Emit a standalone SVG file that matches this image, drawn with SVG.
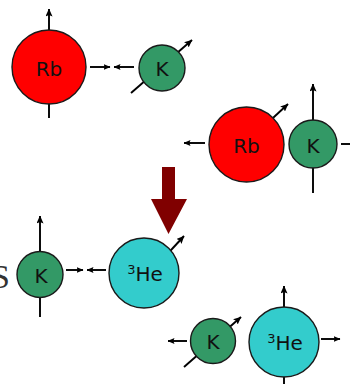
<svg xmlns="http://www.w3.org/2000/svg" width="350" height="384" viewBox="0 0 350 384">
<defs>
<marker id="ah" markerUnits="userSpaceOnUse" markerWidth="8" markerHeight="7" refX="7.5" refY="3.5" orient="auto">
<path d="M0,0 L8,3.5 L0,7 L1.5,3.5 z" fill="#000"/>
</marker>
<marker id="ahs" markerUnits="userSpaceOnUse" markerWidth="7" markerHeight="6" refX="6.5" refY="3" orient="auto">
<path d="M0,0 L7,3 L0,6 L1.2,3 z" fill="#000"/>
</marker>
</defs>
<style>
.c{stroke:#1a1a1a;stroke-width:1.4}
.rb{fill:#ff0000}
.k{fill:#339966}
.he{fill:#33cccc}
.l{stroke:#000;stroke-width:1.9;fill:none}
.a{marker-end:url(#ah)}
.s{marker-end:url(#ahs)}
.t{font-family:"DejaVu Sans",sans-serif;font-size:20px;fill:#111;text-anchor:middle}
.sup{font-size:13px}
</style>
<rect width="350" height="384" fill="#fff"/>
<g id="connectors">
<line class="l a" x1="49" y1="40" x2="49" y2="9"/>
<line class="l" x1="49" y1="100" x2="49" y2="118"/>
<line class="l s" x1="90" y1="67" x2="110" y2="67"/>
<line class="l s" x1="134" y1="67" x2="114" y2="67"/>
<line class="l a" x1="131" y1="93" x2="192" y2="40"/>
<line class="l s" x1="205" y1="143" x2="184" y2="143"/>
<line class="l a" x1="260" y1="130" x2="288" y2="104"/>
<line class="l a" x1="313" y1="130" x2="313" y2="84"/>
<line class="l" x1="313" y1="160" x2="313" y2="193"/>
<line class="l" x1="341" y1="144" x2="350" y2="144"/>
<line class="l a" x1="40" y1="262" x2="40" y2="216"/>
<line class="l" x1="40" y1="290" x2="40" y2="317"/>
<line class="l s" x1="66" y1="270" x2="83" y2="270"/>
<line class="l s" x1="106" y1="270" x2="87" y2="270"/>
<line class="l a" x1="160" y1="262" x2="184" y2="236"/>
<line class="l s" x1="187" y1="341" x2="168" y2="341"/>
<line class="l a" x1="184" y1="367" x2="241" y2="317"/>
<line class="l a" x1="284" y1="320" x2="284" y2="286"/>
<line class="l" x1="284" y1="370" x2="284" y2="384"/>
<line class="l s" x1="321" y1="339" x2="340" y2="339"/>
</g>
<g id="arrow-down">
<path d="M162,167 H175 V199 H187 L168.5,234 L151,199 H162 Z" fill="#800000"/>
</g>
<g id="rb1">
<circle class="c rb" cx="49" cy="67" r="37"/>
<text class="t" x="49" y="76">Rb</text>
</g>
<g id="k1">
<circle class="c k" cx="162" cy="68" r="23"/>
<text class="t" x="162" y="76">K</text>
</g>
<g id="rb2">
<circle class="c rb" cx="246.5" cy="144.5" r="37.5"/>
<text class="t" x="246.5" y="153">Rb</text>
</g>
<g id="k2">
<circle class="c k" cx="313" cy="144" r="24"/>
<text class="t" x="313" y="153">K</text>
</g>
<g id="k3">
<circle class="c k" cx="40" cy="274.5" r="23"/>
<text class="t" x="41" y="283">K</text>
</g>
<g id="he3">
<circle class="c he" cx="144" cy="273" r="35"/>
<text class="t" x="145" y="281"><tspan class="sup" dy="-7">3</tspan><tspan dy="7">He</tspan></text>
</g>
<g id="k4">
<circle class="c k" cx="213" cy="341" r="22.5"/>
<text class="t" x="213" y="349">K</text>
</g>
<g id="he4">
<circle class="c he" cx="284" cy="342" r="35"/>
<text class="t" x="285" y="350"><tspan class="sup" dy="-7">3</tspan><tspan dy="7">He</tspan></text>
</g>
<text x="-9" y="288" font-family="Liberation Serif, serif" font-size="34" fill="#333">S</text>
</svg>
